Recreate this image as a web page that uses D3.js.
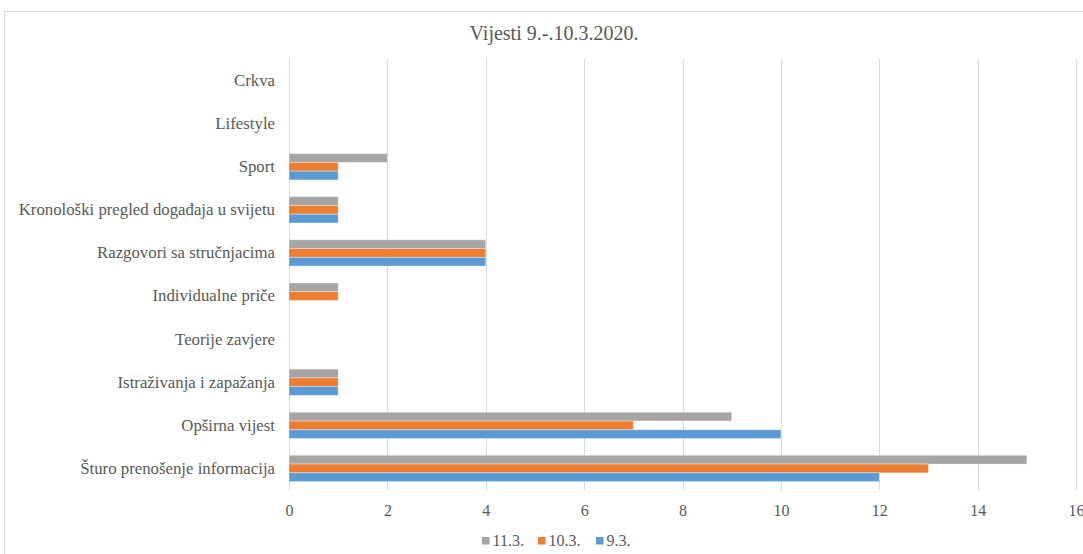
<!DOCTYPE html>
<html><head><meta charset="utf-8">
<script src="https://cdn.jsdelivr.net/npm/d3@7"></script>
<style>body{margin:0;background:#fff}svg{display:block}
svg text{font-family:"Liberation Serif","Times New Roman","DejaVu Serif",serif !important;}</style>
</head><body><svg id="c" width="1083" height="554"></svg>
<script>
const title = "Vijesti 9.-.10.3.2020.";
const categories = ["Crkva","Lifestyle","Sport","Kronološki pregled događaja u svijetu","Razgovori sa stručnjacima","Individualne priče","Teorije zavjere","Istraživanja i zapažanja","Opširna vijest","Šturo prenošenje informacija"];
const seriesNames = ["11.3.","10.3.","9.3."];
const s113 = [0,0,2,1,4,1,0,1,9,15];
const s103 = [0,0,1,1,4,1,0,1,7,13];
const s93  = [0,0,1,1,4,0,0,1,10,12];
const ticks = [0,2,4,6,8,10,12,14,16];
const colors = ["#A5A5A5","#ED7D31","#5B9BD5"];
const seriesVals = [s113,s103,s93];

const svg = d3.select("#c");
const txt = "#595959";

svg.append("rect").attr("x",4.5).attr("y",11.5).attr("width",1200).attr("height",700)
  .attr("fill","#fff").attr("stroke","#d9d9d9");

svg.append("text").attr("x",554).attr("y",40).attr("text-anchor","middle")
  .attr("font-size",20).attr("fill",txt).text(title);

const x = d3.scaleLinear().domain([0,16]).range([289,1076]);
const y = d3.scaleBand().domain(categories).range([59,490]).paddingInner(0.39).paddingOuter(0.195);
const ys = d3.scaleBand().domain(seriesNames).range([0,y.bandwidth()]);

const g = svg.append("g");
g.selectAll("line.grid").data(ticks).join("line")
  .attr("x1",d=>Math.round(x(d))+0.5).attr("x2",d=>Math.round(x(d))+0.5).attr("y1",59).attr("y2",490)
  .attr("stroke","#d9d9d9").attr("stroke-width",1);

const xAxis = d3.axisBottom(x).tickValues(ticks).tickSize(0).tickPadding(0);
const ax = svg.append("g").attr("transform","translate(0,515.5)").call(xAxis);
ax.select(".domain").remove();
ax.selectAll("text").attr("font-size",16).attr("fill",txt).attr("dy","0");

const yAxis = d3.axisLeft(y).tickSize(0).tickPadding(0);
const ay = svg.append("g").attr("transform","translate(275,0)").call(yAxis);
ay.select(".domain").remove();
ay.selectAll("text").attr("font-size",16.8).attr("fill",txt);

seriesNames.forEach((s,i)=>{
  g.selectAll("rect.s"+i).data(categories.map((c,j)=>({c,v:seriesVals[i][j]})).filter(d=>d.v>0)).join("rect")
    .attr("x",x(0)).attr("y",d=>y(d.c)+ys(s))
    .attr("width",d=>x(d.v)-x(0)).attr("height",ys.bandwidth())
    .attr("fill",colors[i]).attr("stroke","#ffffff").attr("stroke-opacity",0.35).attr("stroke-width",1);
});

const legX = [482,538,596];
const leg = svg.append("g");
seriesNames.forEach((s,i)=>{
  leg.append("rect").attr("x",legX[i]).attr("y",537).attr("width",7.5).attr("height",7.5).attr("fill",colors[i]);
  leg.append("text").attr("x",legX[i]+10.5).attr("y",545.5).attr("font-size",16).attr("fill",txt).text(s);
});
</script></body></html>
